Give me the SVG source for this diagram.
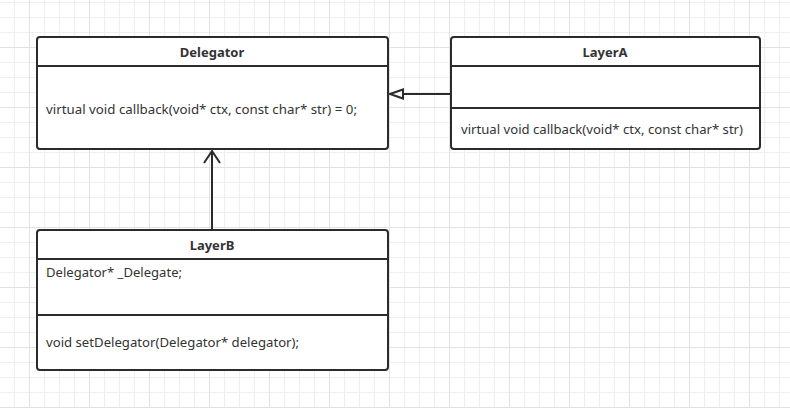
<svg xmlns="http://www.w3.org/2000/svg" width="790" height="408" viewBox="0 0 790 408">
<defs>
<pattern id="minor" patternUnits="userSpaceOnUse" x="14" y="2" width="15" height="15">
<path d="M0 0.5H15M0.5 0V15" stroke="#efefef" stroke-width="1" fill="none"/>
</pattern>
<pattern id="major" patternUnits="userSpaceOnUse" x="29" y="47" width="60" height="60">
<path d="M0 0.5H60M0.5 0V60" stroke="#e2e2e2" stroke-width="1" fill="none"/>
</pattern>
</defs>
<style>
.box{fill:#fff;stroke:#2b2b2b;stroke-width:2}
.sep{stroke:#2b2b2b;stroke-width:2;fill:none}
.title{font-family:"Noto Sans","Open Sans",sans-serif;font-size:13px;font-weight:bold;fill:#333;text-anchor:middle}
.txt{font-family:"Noto Sans","Open Sans",sans-serif;font-size:13px;fill:#333}
.edge{stroke:#2b2b2b;stroke-width:2;fill:none}
</style>
<rect width="790" height="408" fill="#fff"/>
<rect width="790" height="408" fill="url(#minor)"/>
<rect width="790" height="408" fill="url(#major)"/>
<g id="connectors">
<path class="edge" d="M212 230V152"/>
<path class="edge" d="M204 163L212 151L220 163"/>
<path class="edge" d="M451 94H403"/>
<path d="M390 94L403 89.5V98.5Z" fill="#fff" stroke="#2b2b2b" stroke-width="2"/>
</g>
<g id="Delegator">
<rect class="box" x="37" y="37" width="351" height="112" rx="3"/>
<path class="sep" d="M37 66H388"/>
<text class="title" x="212" y="57">Delegator</text>
<text class="txt" x="46" y="114" textLength="311" lengthAdjust="spacingAndGlyphs">virtual void callback(void* ctx, const char* str) = 0;</text>
</g>
<g id="LayerA">
<rect class="box" x="451" y="37" width="309" height="112" rx="3"/>
<path class="sep" d="M451 66H760M451 108H760"/>
<text class="title" x="605" y="57">LayerA</text>
<text class="txt" x="461" y="134" textLength="282" lengthAdjust="spacingAndGlyphs">virtual void callback(void* ctx, const char* str)</text>
</g>
<g id="LayerB">
<rect class="box" x="37" y="230" width="351" height="140" rx="3"/>
<path class="sep" d="M37 259H388M37 315H388"/>
<text class="title" x="212" y="250">LayerB</text>
<text class="txt" x="46" y="277" textLength="136" lengthAdjust="spacingAndGlyphs">Delegator* _Delegate;</text>
<text class="txt" x="46" y="347" textLength="253" lengthAdjust="spacingAndGlyphs">void setDelegator(Delegator* delegator);</text>
</g>
</svg>
